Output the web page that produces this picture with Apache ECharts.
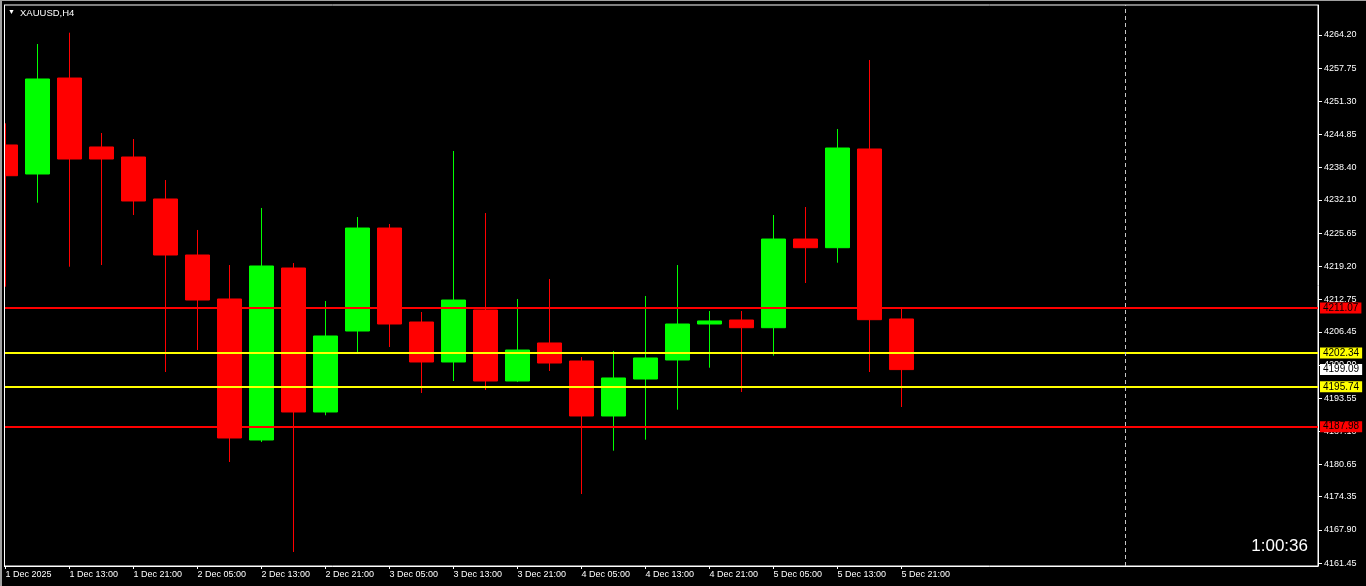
<!DOCTYPE html>
<html><head><meta charset="utf-8">
<script src="https://cdn.jsdelivr.net/npm/echarts@6/dist/echarts.min.js"></script>
<style>
html,body{margin:0;padding:0;background:#000;overflow:hidden;}
#c{position:absolute;left:0;top:0;width:1366px;height:586px;}
.fr{position:absolute;background:#a0a0a0;}
.edge{position:absolute;left:0;top:5px;width:4px;height:562px;background:#000;border-right:1px solid #ffffff;}
</style></head><body>
<div id="c"></div>
<div class="edge"></div>
<div class="fr" style="left:0;top:0;width:1366px;height:1px"></div>
<div class="fr" style="left:0;top:0;width:2px;height:586px"></div>
<script>
// ---- data ----
const symbolName = 'XAUUSD,H4';
const firstLabel = '1 Dec 2025';
const times = [
  '1 Dec 05:00','1 Dec 09:00','1 Dec 13:00','1 Dec 17:00','1 Dec 21:00',
  '2 Dec 01:00','2 Dec 05:00','2 Dec 09:00','2 Dec 13:00','2 Dec 17:00','2 Dec 21:00',
  '3 Dec 01:00','3 Dec 05:00','3 Dec 09:00','3 Dec 13:00','3 Dec 17:00','3 Dec 21:00',
  '4 Dec 01:00','4 Dec 05:00','4 Dec 09:00','4 Dec 13:00','4 Dec 17:00','4 Dec 21:00',
  '5 Dec 01:00','5 Dec 05:00','5 Dec 09:00','5 Dec 13:00','5 Dec 17:00','5 Dec 21:00'
];
const openP  = [4242.80,4237.15,4255.83,4242.41,4240.46,4232.29,4221.39,4212.83,4185.39,4218.86,4190.84,4206.60,4226.64,4208.35,4200.57,4210.69,4196.87,4204.27,4200.76,4190.06,4197.26,4200.96,4207.96,4208.74,4207.24,4224.50,4222.81,4242.02,4208.94];
const closeP = [4236.82,4255.64,4240.07,4240.07,4231.90,4221.39,4212.63,4185.78,4219.25,4190.84,4205.63,4226.64,4207.96,4200.57,4212.63,4196.87,4202.90,4200.37,4190.06,4197.46,4201.35,4207.96,4208.55,4207.24,4224.50,4222.81,4242.21,4208.80,4199.09];
const lowP   = [4215.22,4231.57,4219.11,4219.44,4229.17,4198.62,4202.90,4181.11,4185.00,4163.60,4190.20,4202.51,4203.49,4194.54,4196.87,4195.12,4196.68,4198.82,4174.88,4183.31,4185.45,4191.29,4199.46,4194.73,4201.80,4215.94,4219.89,4198.62,4191.81];
const highP  = [4247.02,4262.45,4264.65,4245.13,4243.96,4235.98,4226.26,4219.44,4230.54,4219.83,4212.44,4228.78,4227.42,4210.30,4241.63,4229.56,4212.83,4216.72,4201.54,4202.71,4213.41,4219.44,4210.49,4210.49,4229.17,4230.73,4245.91,4259.34,4210.88];
const yTickLabels = [4161.45,4167.90,4174.35,4180.65,4187.10,4193.55,4200.00,4206.45,4212.75,4219.20,4225.65,4232.10,4238.40,4244.85,4251.30,4257.75,4264.20];
const levelValues = [4211.07, 4202.34, 4195.74, 4187.98];
const bidPrice = 4199.09;
const vLineIndex = 35;
const timerText = '1:00:36';
const yMin = 4160.87, yMax = 4270.04;
const xMin = -0.046875, xMax = 41.015625;

// ---- styles ----
const UP = '#00ff00', DOWN = '#ff0000';
const levelColors = ['#ff0000', '#ffff00', '#ffff00', '#ff0000'];
const FONT = 'Liberation Sans';

const candleData = times.map((t, i) => [i, openP[i], closeP[i], lowP[i], highP[i]]);
const xLabelIdx = times.map((t, i) => i).filter(i => i % 2 === 0);

const levelLines = levelValues.map((v, k) => ({
  yAxis: v,
  lineStyle: { color: levelColors[k], width: 2, type: 'solid' },
  label: { show: true, position: 'end', distance: 2, formatter: p => Number(p.value).toFixed(2),
    backgroundColor: levelColors[k], color: '#000', padding: [1, 3, 0, 3], fontSize: 10,
    fontFamily: FONT, lineHeight: 10 }
}));
levelLines.push({
  yAxis: bidPrice,
  lineStyle: { color: 'rgba(0,0,0,0)', width: 0 },
  label: { show: true, position: 'end', distance: 2, formatter: p => Number(p.value).toFixed(2),
    backgroundColor: '#ffffff', color: '#000', padding: [1, 3, 0, 3], fontSize: 10,
    fontFamily: FONT, lineHeight: 10 }
});
levelLines.push({
  xAxis: vLineIndex,
  lineStyle: { color: '#c8c8c8', width: 1, type: [4, 3] },
  label: { show: false }
});

const chart = echarts.init(document.getElementById('c'), null, { renderer: 'canvas' });
chart.setOption({
  animation: false,
  backgroundColor: '#000',
  grid: { left: 4, right: 48, top: 5, bottom: 20, show: true, borderColor: '#ffffff', borderWidth: 1, backgroundColor: '#000' },
  xAxis: {
    type: 'value', min: xMin, max: xMax, position: 'bottom',
    axisLine: { show: true, onZero: false, lineStyle: { color: '#ffffff', width: 1 } },
    axisTick: { show: true, length: 3, inside: false, customValues: xLabelIdx, lineStyle: { color: '#ffffff' } },
    axisLabel: { show: true, customValues: xLabelIdx, align: 'left', margin: 4, color: '#ffffff', fontSize: 9, fontFamily: FONT,
      formatter: v => (v === 0 ? firstLabel : times[v]) },
    splitLine: { show: false }
  },
  yAxis: {
    type: 'value', min: yMin, max: yMax, position: 'right', scale: true,
    axisLine: { show: true, onZero: false, lineStyle: { color: '#ffffff', width: 1 } },
    axisTick: { show: true, length: 4, inside: false, customValues: yTickLabels, lineStyle: { color: '#ffffff' } },
    axisLabel: { show: true, customValues: yTickLabels, margin: 6, color: '#ffffff', fontSize: 9, fontFamily: FONT,
      formatter: v => Number(v).toFixed(2) },
    splitLine: { show: false }
  },
  graphic: [
    { type: 'text', left: 8, top: 9, z: 100, style: { text: '▼', fill: '#ffffff', font: '7px ' + FONT } },
    { type: 'text', left: 20, top: 8, z: 100, style: { text: symbolName, fill: '#ffffff', font: '9.5px ' + FONT } },
    { type: 'text', right: 58, bottom: 31, z: 100, style: { text: timerText, fill: '#ffffff', font: '17px ' + FONT } }
  ],
  series: [{
    type: 'candlestick',
    encode: { x: 0, y: [1, 2, 3, 4] },
    data: candleData,
    barWidth: 24,
    clip: true,
    itemStyle: { color: UP, color0: DOWN, borderColor: UP, borderColor0: DOWN, borderWidth: 1 },
    markLine: { silent: true, symbol: ['none', 'none'], animation: false, data: levelLines }
  }]
});
</script>
</body></html>
